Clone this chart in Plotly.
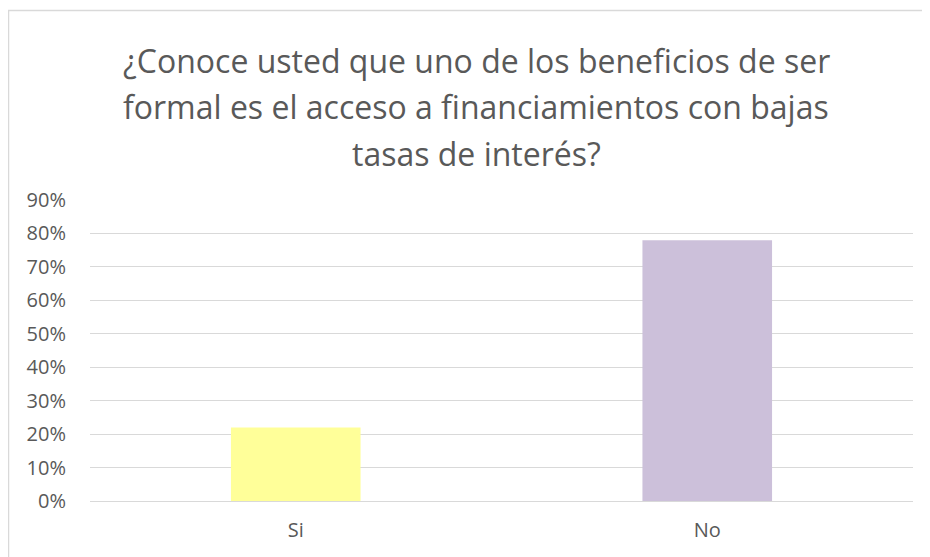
import plotly.graph_objects as go

# Survey answers (share of respondents)
categories = ["Si", "No"]
shares = [0.22, 0.78]
bar_colors = ["#FFFF99", "#CCC0DA"]

title_lines = [
    "¿Conoce usted que uno de los beneficios de ser",
    "formal es el acceso a financiamientos con bajas",
    "tasas de interés?",
]

TEXT = "#595959"
GRID = "#D9D9D9"
FONT = "Open Sans, Segoe UI, sans-serif"

# the page body adds an 8px offset, so the figure is drawn 8px smaller
OFF = 8
W, H = 930 - OFF, 557 - OFF
L, R, T, B = 90 - OFF, 17, 200 - OFF, 56
pw, ph = W - L - R, H - T - B


def px_x(x):
    # page pixel -> paper coordinate
    return (x - OFF - L) / pw


def px_y(y):
    return (H - B - (y - OFF)) / ph


fig = go.Figure(
    go.Bar(
        x=categories,
        y=shares,
        marker=dict(color=bar_colors, line=dict(width=0)),
        width=0.315,
        hoverinfo="x+y",
    )
)

# chart border
fig.add_shape(
    type="rect", xref="paper", yref="paper",
    x0=px_x(8.5), x1=px_x(945), y0=px_y(10.5), y1=px_y(575),
    line=dict(color=GRID, width=1.5), layer="below",
)

# three-line title, spaced like the original
for i, line in enumerate(title_lines):
    fig.add_annotation(
        text=line, xref="paper", yref="paper",
        x=px_x(476), y=px_y(60 + i * 46.5),
        xanchor="center", yanchor="middle", showarrow=False,
        font=dict(family=FONT, size=32, color=TEXT),
    )

fig.update_layout(
    width=W, height=H,
    margin=dict(l=L, r=R, t=T, b=B),
    paper_bgcolor="white", plot_bgcolor="white",
    showlegend=False,
    font=dict(family=FONT, color=TEXT),
    xaxis=dict(
        showgrid=False, showline=False, zeroline=False,
        tickfont=dict(size=20, color=TEXT),
        ticklabelstandoff=15,
    ),
    yaxis=dict(
        range=[0, 0.9], dtick=0.1, tickformat=".0%",
        showgrid=True, gridcolor=GRID, gridwidth=1,
        zeroline=True, zerolinecolor=GRID, zerolinewidth=1,
        showline=False,
        tickfont=dict(size=20, color=TEXT),
        ticklabelstandoff=23,
    ),
)

fig.write_html("out.html")
